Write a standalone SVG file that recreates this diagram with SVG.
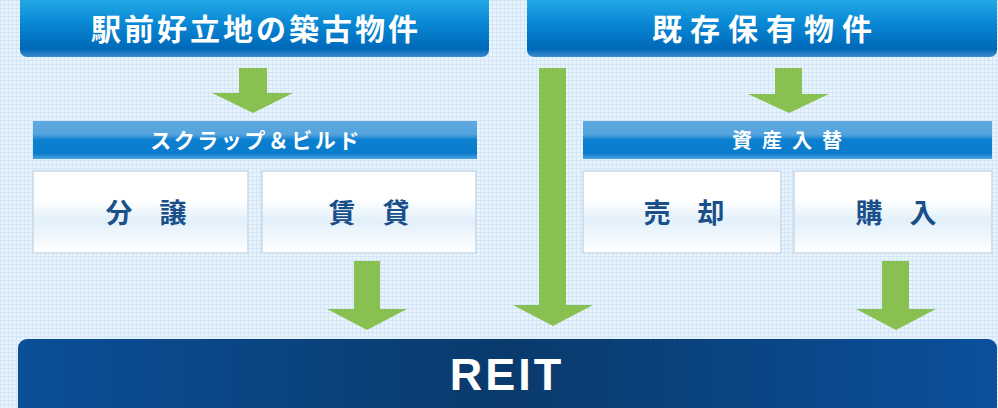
<svg xmlns="http://www.w3.org/2000/svg" width="998" height="408" viewBox="0 0 998 408">
<defs>
<pattern id="grid" width="4" height="4" patternUnits="userSpaceOnUse">
<rect width="4" height="4" fill="#e9f3fc"/>
<rect width="4" height="1" fill="#d3e6f7"/>
<rect width="1" height="4" fill="#d3e6f7"/>
</pattern>
<linearGradient id="topg" x1="0" y1="0" x2="0" y2="1">
<stop offset="0" stop-color="#2db4ec"/>
<stop offset="0.45" stop-color="#0a8ad6"/>
<stop offset="0.88" stop-color="#0068b8"/>
<stop offset="1" stop-color="#3a8ccc"/>
</linearGradient>
<linearGradient id="barg" x1="0" y1="0" x2="0" y2="1">
<stop offset="0" stop-color="#5fa9e0"/>
<stop offset="0.35" stop-color="#55a4de"/>
<stop offset="0.5" stop-color="#0a7fd0"/>
<stop offset="0.85" stop-color="#0b7ccc"/>
<stop offset="1" stop-color="#4aa6e2"/>
</linearGradient>
<linearGradient id="leafg" x1="0" y1="0" x2="0" y2="1">
<stop offset="0" stop-color="#ffffff"/>
<stop offset="0.35" stop-color="#ffffff"/>
<stop offset="0.6" stop-color="#e2f0fa"/>
<stop offset="1" stop-color="#ffffff"/>
</linearGradient>
<linearGradient id="reitg" x1="0" y1="0" x2="1" y2="0">
<stop offset="0" stop-color="#0a4f98"/>
<stop offset="0.5" stop-color="#0a3a6c"/>
<stop offset="1" stop-color="#0a509c"/>
</linearGradient>
<style>
.top{fill:url(#topg);}
.bar{fill:url(#barg);}
.leaf{fill:url(#leafg);stroke:#c9d9e8;stroke-width:1.5;}
.arrow{fill:#88c152;}
.wt{fill:#ffffff;font-family:"Noto Sans CJK JP","Noto Sans",sans-serif;font-weight:bold;text-anchor:middle;}
.lt{fill:#1a4f8a;font-family:"Noto Sans CJK JP","Noto Sans",sans-serif;font-weight:bold;text-anchor:middle;font-size:27px;}
</style>
</defs>
<rect width="998" height="408" fill="url(#grid)"/>

<g id="top-left">
<rect class="top" x="20" y="-8" width="469" height="65" rx="7"/>
<text class="wt" x="256" y="40" font-size="30" letter-spacing="3">駅前好立地の築古物件</text>
</g>
<g id="top-right">
<rect class="top" x="527" y="-8" width="470" height="65" rx="7"/>
<text class="wt" x="766" y="40" font-size="30" letter-spacing="8">既存保有物件</text>
</g>

<g id="bar-left">
<rect class="bar" x="33" y="121" width="444" height="38"/>
<text class="wt" x="256" y="148" font-size="21" letter-spacing="2.5">スクラップ＆ビルド</text>
</g>
<g id="bar-right">
<rect class="bar" x="583" y="121" width="409" height="38"/>
<text class="wt" x="792" y="148" font-size="20" letter-spacing="10">資産入替</text>
</g>

<g id="leaf-bunjo">
<rect class="leaf" x="33" y="171" width="215" height="82"/>
<text class="lt" x="146" y="223">分　譲</text>
</g>
<g id="leaf-chintai">
<rect class="leaf" x="262" y="171" width="214" height="82"/>
<text class="lt" x="369" y="223">賃　貸</text>
</g>
<g id="leaf-baikyaku">
<rect class="leaf" x="583" y="171" width="198" height="82"/>
<text class="lt" x="684" y="223">売　却</text>
</g>
<g id="leaf-konyu">
<rect class="leaf" x="794" y="171" width="198" height="82"/>
<text class="lt" x="896" y="223">購　入</text>
</g>

<g id="reit">
<rect x="18" y="339" width="979" height="80" rx="9" fill="url(#reitg)"/>
<text x="507" y="390" fill="#ffffff" font-family="Liberation Sans, Arial, sans-serif" font-weight="bold" font-size="45" text-anchor="middle" letter-spacing="3">REIT</text>
</g>

<g id="connectors">
<polygon class="arrow" points="239,68 267,68 267,93 293,93 253,113 212,93 239,93"/>
<polygon class="arrow" points="775,68 802,68 802,94 829,94 789,113 748,94 775,94"/>
<polygon class="arrow" points="539,68 566,68 566,305 593,305 553,326 513,305 539,305"/>
<polygon class="arrow" points="354,261 380,261 380,309 407,309 367,330 327,309 354,309"/>
<polygon class="arrow" points="882,261 909,261 909,309 936,309 896,330 856,309 882,309"/>
</g>
</svg>
